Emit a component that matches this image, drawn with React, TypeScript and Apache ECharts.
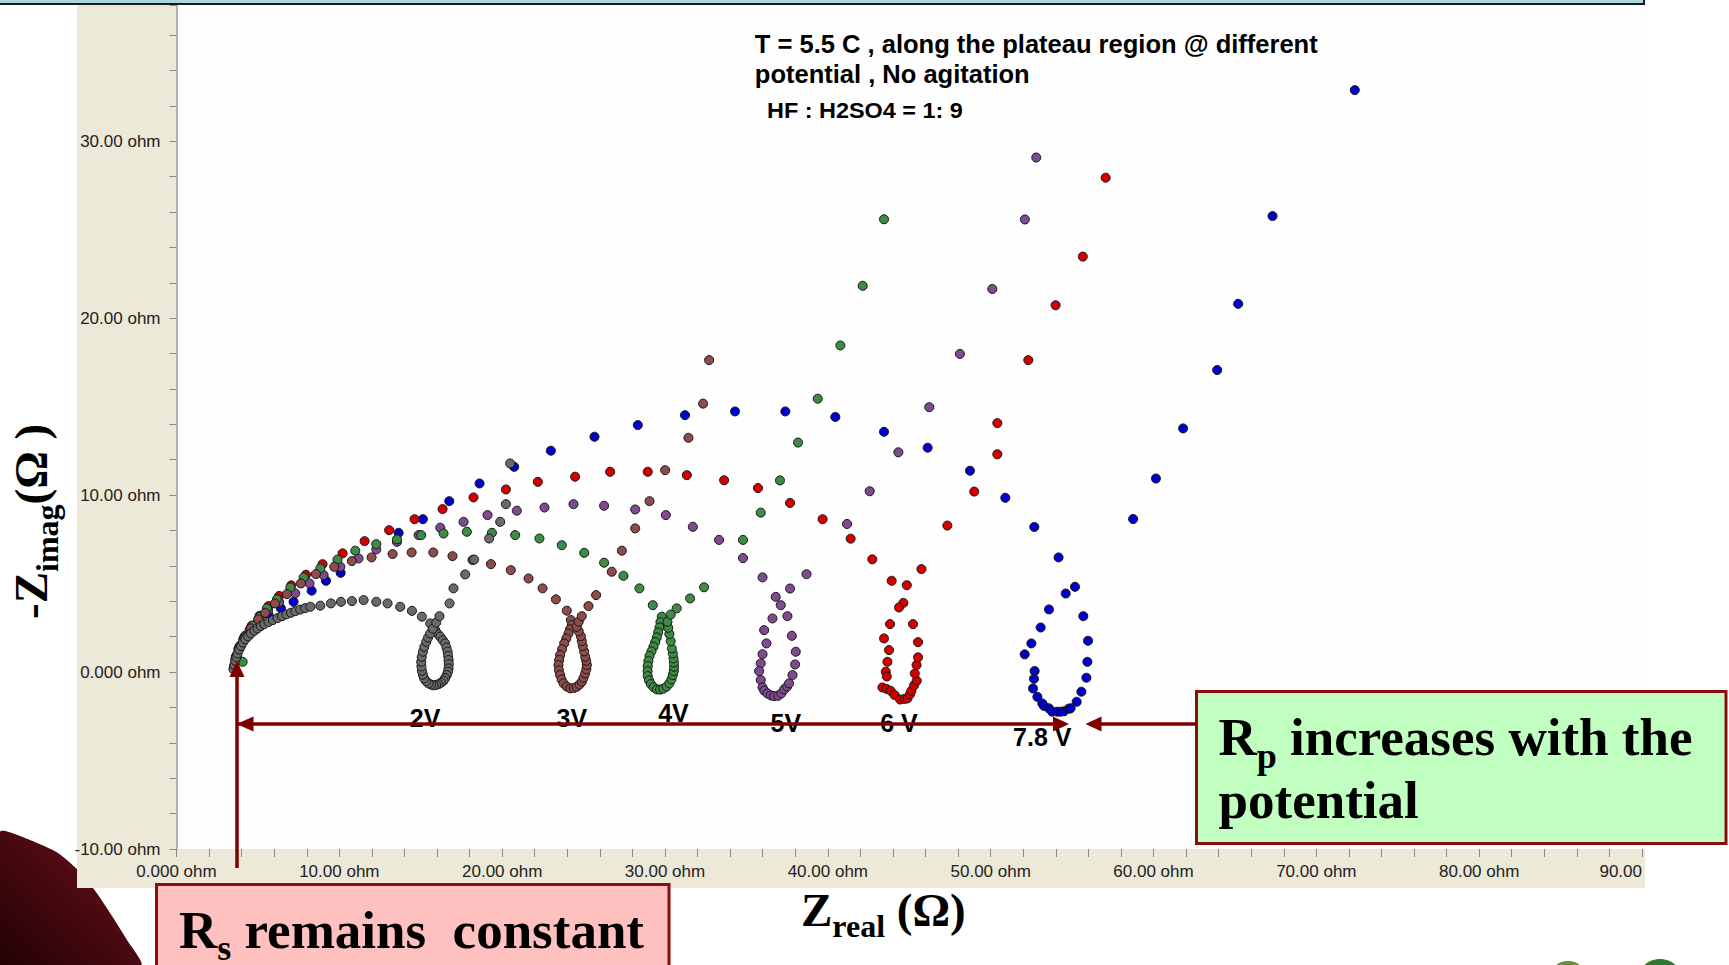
import React, { useEffect, useRef } from 'react';
import * as echarts from 'echarts';

const W = 1729;
const H = 965;

// ---------------- data (Z_real, -Z_imag) in ohm ----------------
const seriesNames = ['2V', '3V', '4V', '5V', '6 V', '7.8 V'];
const seriesColors = ['#6a6a6a', '#8d4b4b', '#3e8b46', '#7e4b8e', '#d40000', '#0000cc'];

const pts2V = [
  [3.5, 0.15], [3.55, 0.4], [3.61, 0.64], [3.68, 0.85], [3.75, 1.05], [3.85, 1.27], [3.96, 1.47], [4.08, 1.67],
  [4.22, 1.85], [4.4, 2.02], [4.57, 2.18], [4.78, 2.33], [4.98, 2.47], [5.18, 2.6], [5.39, 2.71], [5.65, 2.83],
  [5.92, 2.94], [6.2, 3.05], [6.48, 3.16], [6.75, 3.26], [7.03, 3.35], [7.3, 3.44], [7.6, 3.53], [7.9, 3.61],
  [8.22, 3.69], [8.83, 3.75], [9.48, 3.88], [10.1, 3.97], [10.77, 4.01], [11.49, 4.07], [12.27, 3.97], [12.96, 3.88],
  [13.74, 3.69], [14.46, 3.46], [15.07, 3.13], [15.58, 2.75], [15.89, 2.37],
  [16.05, 2.15], [16.2, 2.0], [16.35, 1.8], [16.5, 1.62], [16.58, 1.38], [16.65, 1.15], [16.68, 0.92], [16.71, 0.68],
  [16.72, 0.45], [16.71, 0.21], [16.67, 0.02], [16.6, -0.17], [16.5, -0.34], [16.4, -0.49], [16.25, -0.6], [16.1, -0.68],
  [15.95, -0.73], [15.79, -0.75], [15.63, -0.71], [15.48, -0.64], [15.33, -0.52], [15.21, -0.36], [15.13, -0.15],
  [15.07, 0.07], [15.04, 0.32], [15.03, 0.58], [15.06, 0.86], [15.13, 1.15], [15.22, 1.43], [15.34, 1.71], [15.45, 1.95],
  [15.58, 2.18], [15.75, 2.45], [15.95, 2.8], [16.15, 3.16],
  [16.77, 3.88], [17.01, 4.73], [17.73, 5.52], [18.28, 6.36], [19.2, 7.55], [19.88, 8.49], [20.23, 9.49], [20.49, 11.79],
];

const pts3V = [
  [3.53, 0.28], [3.67, 0.88], [3.92, 1.43], [4.22, 1.97], [4.57, 2.47], [5.02, 2.98], [5.45, 3.35], [6.05, 3.88],
  [6.78, 4.41], [7.64, 5.01], [8.56, 5.54], [9.69, 5.95], [10.77, 6.27], [11.98, 6.48], [13.27, 6.67], [14.44, 6.76],
  [15.77, 6.76], [16.95, 6.55], [18.18, 6.33], [19.31, 6.1], [20.53, 5.76], [21.62, 5.29], [22.48, 4.73], [23.3, 4.11],
  [23.97, 3.47], [24.22, 2.94],
  [24.28, 2.66], [24.17, 2.42], [24.07, 2.18], [23.94, 1.9], [23.81, 1.62], [23.68, 1.29], [23.56, 0.96], [23.5, 0.68],
  [23.46, 0.4], [23.49, 0.1], [23.56, -0.17], [23.65, -0.42], [23.77, -0.64], [23.96, -0.82], [24.18, -0.92], [24.4, -0.9],
  [24.58, -0.83], [24.75, -0.7], [24.89, -0.55], [25.0, -0.32], [25.1, -0.08], [25.17, 0.16], [25.2, 0.4], [25.16, 0.64],
  [25.1, 0.87], [25.03, 1.17], [24.95, 1.47], [24.89, 1.75], [24.83, 2.03], [24.7, 2.3], [24.58, 2.56], [24.7, 2.85],
  [24.89, 3.16], [25.3, 3.73], [25.77, 4.35], [26.73, 5.67], [27.35, 6.86], [28.17, 8.12], [29.05, 9.66], [30.01, 11.41],
  [31.44, 13.24], [32.34, 15.17], [32.71, 17.63],
];

const pts4V = [
  [3.55, 0.22], [4.06, 0.58], [3.7, 0.95], [3.92, 1.5], [4.25, 2.07], [4.68, 2.62], [5.12, 3.12], [5.55, 3.6],
  [6.17, 4.11], [6.99, 4.78], [7.81, 5.35], [8.83, 5.86], [9.89, 6.36], [10.98, 6.86], [12.27, 7.23], [13.54, 7.5],
  [15.03, 7.74], [16.4, 7.83], [17.83, 7.93], [19.37, 7.87], [20.8, 7.74], [22.29, 7.55], [23.66, 7.17], [25.04, 6.74],
  [26.26, 6.18], [27.45, 5.44], [28.43, 4.73], [29.25, 3.78],
  [29.8, 3.13], [29.72, 2.82], [29.66, 2.52], [29.58, 2.24], [29.5, 1.96], [29.4, 1.7], [29.29, 1.43], [29.17, 1.17],
  [29.05, 0.91], [28.98, 0.62], [28.94, 0.34], [28.93, 0.05], [28.94, -0.23], [29.02, -0.47], [29.13, -0.68], [29.3, -0.86],
  [29.5, -0.98], [29.7, -0.99], [29.9, -0.94], [30.1, -0.82], [30.27, -0.64], [30.4, -0.41], [30.48, -0.17], [30.54, 0.06],
  [30.56, 0.3], [30.55, 0.54], [30.52, 0.77], [30.48, 1.05], [30.42, 1.33], [30.35, 1.74], [30.27, 2.15], [30.2, 2.5],
  [30.15, 2.84], [30.35, 3.25],
  [30.72, 3.6], [31.54, 4.16], [32.4, 4.79], [34.79, 7.47], [35.88, 9.01], [37.06, 10.83], [38.17, 12.97], [39.38, 15.45],
  [40.77, 18.46], [42.14, 21.83], [43.45, 25.59],
];

const pts5V = [
  [3.53, 0.25], [3.66, 0.85], [3.86, 1.42], [4.17, 1.98], [4.57, 2.52], [5.05, 3.02], [5.62, 3.5], [6.3, 3.95],
  [7.29, 4.45], [8.17, 5.01], [9.03, 5.48], [10.06, 5.95], [11.18, 6.42], [12.27, 6.93], [13.54, 7.36], [14.87, 7.74],
  [16.2, 8.16], [17.63, 8.49], [19.1, 8.87], [20.9, 9.12], [22.6, 9.3], [24.38, 9.49], [26.26, 9.4], [28.17, 9.19],
  [30.05, 8.87], [31.71, 8.21], [33.32, 7.47], [34.79, 6.44], [35.99, 5.35], [36.8, 4.25], [37.11, 3.78],
  [36.6, 3.03], [36.09, 2.37], [36.23, 1.62], [35.99, 1.01], [35.88, 0.49], [35.78, 0.05], [35.88, -0.45], [35.99, -0.87],
  [36.1, -1.05], [36.29, -1.21], [36.5, -1.32], [36.7, -1.36], [36.95, -1.34], [37.15, -1.2], [37.32, -0.98], [37.5, -0.82],
  [37.62, -0.64], [37.83, -0.17], [37.99, 0.43], [38.03, 1.15], [37.79, 2.05], [37.52, 3.16], [37.68, 4.72], [38.69, 5.53],
  [41.18, 8.37], [42.57, 10.22], [44.33, 12.42], [46.23, 14.97], [48.11, 17.98], [50.1, 21.65], [52.1, 25.58], [52.8, 29.08],
];

const pts6V = [
  [3.54, 0.3], [3.68, 0.9], [3.9, 1.48], [4.22, 2.05], [4.62, 2.62], [5.1, 3.18], [5.65, 3.73], [6.3, 4.3],
  [7.05, 4.9], [7.95, 5.5], [8.97, 6.1], [10.2, 6.71], [11.55, 7.4], [13.06, 8.02], [14.62, 8.64], [16.34, 9.21],
  [18.24, 9.87], [20.23, 10.32], [22.19, 10.75], [24.48, 11.04], [26.63, 11.32], [28.94, 11.32], [31.34, 11.13],
  [33.63, 10.84], [35.71, 10.4], [37.68, 9.56], [39.68, 8.64], [41.4, 7.54], [42.73, 6.37], [43.92, 5.16],
  [44.64, 3.91], [44.37, 3.65], [43.82, 2.71], [43.45, 1.9], [43.76, 1.24], [43.66, 0.58], [43.56, 0.02], [43.62, -0.25],
  [43.35, -0.87], [43.6, -0.95], [43.86, -1.06], [44.1, -1.3], [44.44, -1.55], [44.7, -1.52], [44.89, -1.49], [45.05, -1.25],
  [45.13, -1.06], [45.3, -0.75], [45.46, -0.49], [45.34, -0.08], [45.45, 0.4], [45.54, 0.83], [45.54, 1.69], [45.23, 2.71],
  [44.85, 4.91], [45.75, 5.82], [47.34, 8.28], [48.99, 10.2], [50.41, 12.31], [50.41, 14.07], [52.31, 17.63],
  [53.99, 20.73], [55.66, 23.48], [57.06, 27.94],
];

const pts78V = [
  [3.52, 0.2], [3.62, 0.75], [3.8, 1.3], [4.1, 1.85], [4.5, 2.4], [5.0, 2.85], [5.65, 3.25], [6.41, 3.6],
  [7.19, 3.97], [8.3, 4.6], [9.18, 5.16], [10.08, 5.61], [13.64, 7.87], [15.13, 8.64], [16.75, 9.66], [18.61, 10.66],
  [20.74, 11.6], [22.99, 12.51], [25.67, 13.3], [28.33, 13.96], [31.23, 14.52], [34.3, 14.73], [37.39, 14.73],
  [40.46, 14.42], [43.45, 13.58], [46.13, 12.68], [48.73, 11.38], [50.9, 9.85], [52.68, 8.2], [54.17, 6.48],
  [55.18, 4.82], [54.61, 4.44], [53.58, 3.54], [53.07, 2.52], [52.5, 1.62], [52.09, 1.0], [52.7, 0.06], [52.66, -0.38],
  [52.6, -0.93], [52.87, -1.4], [53.17, -1.77], [53.27, -1.91], [53.58, -2.05], [53.78, -2.24], [54.09, -2.24],
  [54.29, -2.24], [54.5, -2.22], [54.8, -2.07], [54.91, -2.05], [55.28, -1.68], [55.57, -1.11], [55.88, -0.32],
  [55.94, 0.58], [55.98, 1.77], [55.69, 3.16],
  [58.75, 8.65], [60.15, 10.94], [61.82, 13.77], [63.91, 17.07], [65.2, 20.81], [67.31, 25.77], [72.36, 32.89],
];

const seriesPoints = [pts2V, pts3V, pts4V, pts5V, pts6V, pts78V];

const voltageLabels = ['2V', '3V', '4V', '5V', '6 V', '7.8 V'];
const voltageLabelX = [15.27, 24.28, 30.52, 37.42, 44.37, 53.17];
const voltageLabelY = [-2.6, -2.62, -2.33, -2.9, -2.9, -3.65];

const xMin = 0;
const xMax = 90;
const yMin = -10;
const yMax = 37.7;
const tickStep = 2;
const labelStep = 10;

const noteLines = ['T = 5.5 C , along the plateau region @ different', 'potential , No agitation', 'HF : H2SO4 = 1: 9'];

// ---------------- helpers ----------------
const SERIF = '"Liberation Serif", "Times New Roman", serif';
const SANS = '"Liberation Sans", Arial, sans-serif';
const fnt = (size: number, bold: boolean, fam: string) => `${bold ? 'bold ' : ''}${size}px ${fam}`;
const mctx = document.createElement('canvas').getContext('2d') as CanvasRenderingContext2D;
const tw = (t: string, f: string) => {
  mctx.font = f;
  return mctx.measureText(t).width;
};
const midOff = (size: number, fam: string) => (fam === SERIF ? 0.3375 : 0.3465) * size;

const txt = (text: string, x: number, baseline: number, size: number, fam: string, bold: boolean, z = 60, scaleX = 1) => ({
  type: 'text',
  x,
  y: baseline - midOff(size, fam),
  scaleX,
  z,
  silent: true,
  style: {
    text,
    font: fnt(size, bold, fam),
    fill: '#000',
    align: 'left',
    verticalAlign: 'middle',
    textAlign: 'left',
    textVerticalAlign: 'middle',
  },
});

// Sequence of text runs: [text, size, baselineShift, gapBefore]
function runs(parts: [string, number, number, number][], x0: number, baseline: number, fam: string, bold: boolean) {
  const out: any[] = [];
  let x = x0;
  for (const [t, size, shift, gap] of parts) {
    x += gap;
    out.push(txt(t, x, baseline + shift, size, fam, bold));
    x += tw(t, fnt(size, bold, fam));
  }
  return out;
}

// text squeezed to a target width
const fitTxt = (text: string, x: number, baseline: number, size: number, target: number) => {
  const w = tw(text, fnt(size, true, SANS));
  return txt(text, x, baseline, size, SANS, true, 60, target / w);
};

const AR = '#800000';

function buildGraphics() {
  const g: any[] = [];
  // bottom-left slide decoration
  g.push({
    type: 'polygon',
    z: -30,
    silent: true,
    shape: {
      points: [[0, 832], [30, 840], [58, 853], [80, 872], [96, 892], [112, 916], [127, 940], [141, 965], [0, 965]],
      smooth: 0.2,
    },
    style: {
      fill: new echarts.graphic.LinearGradient(1, 0, 0, 1, [
        { offset: 0, color: '#8a1c28' },
        { offset: 0.35, color: '#520a12' },
        { offset: 1, color: '#1e0203' },
      ]),
    },
  });
  // beige chart frame
  g.push({ type: 'rect', z: -20, silent: true, shape: { x: 77, y: 4, width: 1568, height: 884 }, style: { fill: '#ece9d8' } });
  // white plot area
  g.push({ type: 'rect', z: -19, silent: true, shape: { x: 176.5, y: 4, width: 1468.5, height: 845 }, style: { fill: '#fefefe' } });
  // top band
  g.push({
    type: 'rect',
    z: 50,
    silent: true,
    shape: { x: -4, y: -4, width: 1648, height: 8 },
    style: { fill: '#a9d7dc', stroke: '#1a1a1a', lineWidth: 2 },
  });
  // logo blobs bottom right
  g.push({ type: 'ellipse', z: 40, silent: true, shape: { cx: 1568, cy: 975, rx: 17, ry: 14 }, style: { fill: '#6d8a3a' } });
  g.push({ type: 'ellipse', z: 40, silent: true, shape: { cx: 1660, cy: 979, rx: 22, ry: 20 }, style: { fill: '#2e7a34' } });

  // annotation (narrow, heavy face)
  g.push(fitTxt(noteLines[0], 754.8, 53.3, 26, 563));
  g.push(fitTxt(noteLines[1], 754.8, 83.3, 26, 275));
  g.push(fitTxt(noteLines[2], 767, 118.3, 23, 196));

  // arrows
  const line = (x1: number, y1: number, x2: number, y2: number) => ({
    type: 'line', z: 70, silent: true, shape: { x1, y1, x2, y2 }, style: { stroke: AR, lineWidth: 3.5 },
  });
  const head = (pts: number[][]) => ({ type: 'polygon', z: 71, silent: true, shape: { points: pts }, style: { fill: AR } });
  g.push(line(237, 868, 237, 674));
  g.push(head([[237, 661], [229.5, 677], [244.5, 677]]));
  g.push(line(237, 724, 1056, 724));
  g.push(head([[236.5, 724], [253.5, 716.5], [253.5, 731.5]]));
  g.push(head([[1069, 724], [1053, 716.5], [1053, 731.5]]));
  g.push(line(1098, 724, 1197, 724));
  g.push(head([[1085.5, 724], [1101.5, 716.5], [1101.5, 731.5]]));

  // pink box
  g.push({
    type: 'rect', z: 55, silent: true,
    shape: { x: 156.5, y: 884.5, width: 512.5, height: 100 },
    style: { fill: '#ffc0c0', stroke: '#8b0d0d', lineWidth: 3 },
  });
  const big = 53;
  const sub = 36;
  const sp = tw(' ', fnt(big, true, SERIF));
  g.push(...runs([['R', big, 0, 0], ['s', sub, 13, 0], ['remains', big, 0, sp], ['constant', big, 0, 2 * sp]], 179, 947.5, SERIF, true));

  // green box
  g.push({
    type: 'rect', z: 55, silent: true,
    shape: { x: 1196.5, y: 691.5, width: 529.5, height: 152 },
    style: { fill: '#c0ffc0', stroke: '#8b0d0d', lineWidth: 3 },
  });
  g.push(...runs([['R', big, 0, 0], ['p', sub, 13, 0], ['increases with the', big, 0, sp]], 1218.5, 755, SERIF, true));
  g.push(txt('potential', 1218.5, 818, big, SERIF, true));

  // x axis title  Z_real (Ω)
  const tf = 47;
  const ts = 32;
  g.push(...runs([['Z', tf, 0, 0], ['real', ts, 11, 0], ['(\u03A9)', tf, 0, tw(' ', fnt(tf, true, SERIF))]], 801, 926, SERIF, true));

  // y axis title  -Z_imag(Ω )
  const yParts: [string, number, number][] = [['-Z', tf, 0], ['imag', ts, 11], ['(\u03A9 )', tf, 0]];
  const children: any[] = [];
  let lx = 0;
  for (const [t, s, sh] of yParts) {
    children.push(txt(t, lx, sh, s, SERIF, true));
    lx += tw(t, fnt(s, true, SERIF));
  }
  g.push({ type: 'group', x: 47, y: 619, rotation: Math.PI / 2, z: 60, silent: true, children });
  return g;
}

const fmtX = (v: number) => {
  if (Math.abs(v % labelStep) > 1e-6) return '';
  if (v === 0) return '0.000 ohm';
  if (v === xMax) return `${v}.00`;
  return `${v}.00 ohm`;
};
const fmtY = (v: number) => {
  if (Math.abs(v % labelStep) > 1e-6) return '';
  if (v === 0) return '0.000 ohm';
  return `${v}.00 ohm`;
};

export default function App() {
  const ref = useRef<HTMLDivElement>(null);
  useEffect(() => {
    const chart = echarts.init(ref.current as HTMLDivElement, null, { renderer: 'svg', width: W, height: H });
    const order = [5, 4, 3, 2, 1, 0];
    const option: any = {
      animation: false,
      backgroundColor: '#ffffff',
      grid: { left: 176.5, right: W - 1642, top: 5, bottom: H - 849, containLabel: false, outerBoundsMode: 'none' },
      xAxis: {
        type: 'value',
        min: xMin,
        max: xMax,
        interval: tickStep,
        axisLine: { show: false, onZero: false },
        axisTick: { show: true, length: 8, lineStyle: { color: '#8a8a86', width: 1 } },
        splitLine: { show: false },
        axisLabel: {
          formatter: fmtX,
          margin: 14,
          fontSize: 17,
          fontFamily: SANS,
          color: '#222',
          hideOverlap: false,
          alignMaxLabel: 'right',
        },
      },
      yAxis: {
        type: 'value',
        min: yMin,
        max: yMax,
        interval: tickStep,
        axisLine: { show: true, onZero: false, lineStyle: { color: '#9c9a90', width: 1.5 } },
        axisTick: { show: true, length: 7, lineStyle: { color: '#8a8a86', width: 1 } },
        splitLine: { show: false },
        axisLabel: { formatter: fmtY, margin: 16, fontSize: 17, fontFamily: SANS, color: '#222', hideOverlap: false },
      },
      series: [
        ...order.map((i, k) => ({
          type: 'scatter',
          name: seriesNames[i],
          data: seriesPoints[i],
          symbol: 'circle',
          symbolSize: 9,
          silent: true,
          z: 2 + k,
          itemStyle: { color: seriesColors[i], borderColor: '#141414', borderWidth: 1, opacity: 1 },
          emphasis: { disabled: true },
        })),
        {
          type: 'scatter',
          name: 'labels',
          data: voltageLabels.map((t, i) => ({ name: t, value: [voltageLabelX[i], voltageLabelY[i]] })),
          symbolSize: 1,
          silent: true,
          z: 20,
          itemStyle: { color: 'rgba(0,0,0,0)' },
          label: {
            show: true,
            position: 'inside',
            formatter: '{b}',
            fontSize: 25,
            fontWeight: 'bold',
            fontFamily: SANS,
            color: '#000',
            opacity: 1,
            textBorderWidth: 0,
          },
          emphasis: { disabled: true },
        },
      ],
      graphic: { elements: buildGraphics() },
    };
    chart.setOption(option);
    return () => chart.dispose();
  }, []);
  return <div ref={ref} style={{ position: 'fixed', left: 0, top: 0, width: W, height: H, background: '#fff' }} />;
}
